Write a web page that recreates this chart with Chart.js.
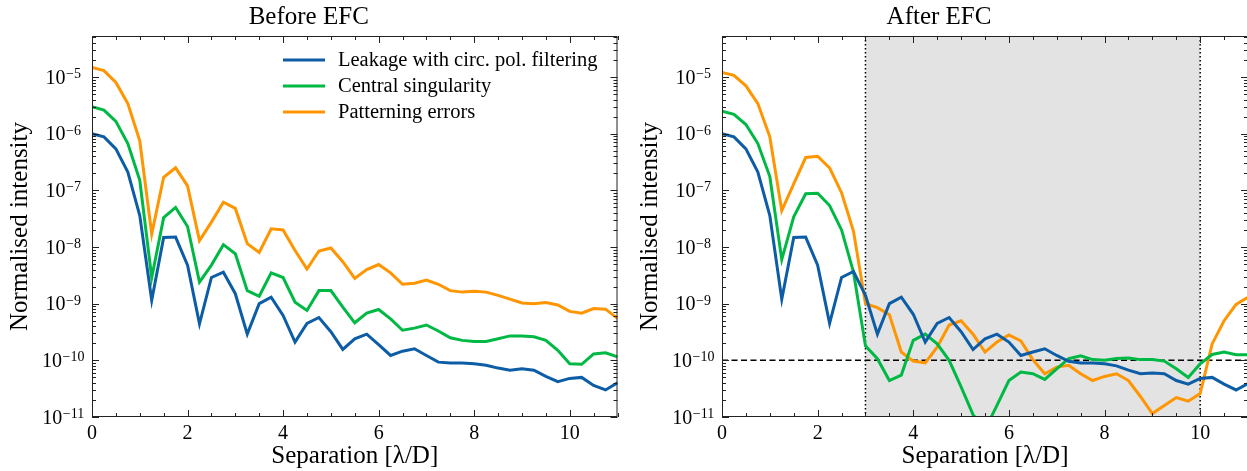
<!DOCTYPE html>
<html>
<head>
  <title>Before / After EFC</title>
  <script src="https://cdn.jsdelivr.net/npm/chart.js"></script>
  <style>
    html, body { margin: 0; padding: 0; background: #fff; overflow: hidden; }
    canvas { position: absolute; top: 0; }
    #beforeChart { left: 0; }
    #afterChart { left: 630px; }
  </style>
</head>
<body>
  <canvas id="beforeChart" width="625" height="471"></canvas>
  <canvas id="afterChart" width="618" height="471"></canvas>

  <script>
// separation in lambda/D
const separation = [0, 0.25, 0.5, 0.75, 1, 1.25, 1.5, 1.75, 2, 2.25, 2.5, 2.75, 3, 3.25, 3.5, 3.75,
  4, 4.25, 4.5, 4.75, 5, 5.25, 5.5, 5.75, 6, 6.25, 6.5, 6.75, 7, 7.25, 7.5, 7.75,
  8, 8.25, 8.5, 8.75, 9, 9.25, 9.5, 9.75, 10, 10.25, 10.5, 10.75, 11];

// Before EFC
const beforeLeakage = [1.0e-6, 8.8e-7, 5.4e-7, 2.1e-7, 3.6e-8, 1.15e-9, 1.47e-8, 1.5e-8, 4.8e-9, 4.4e-10,
  2.9e-9, 3.6e-9, 1.5e-9, 2.9e-10, 1.0e-9, 1.3e-9, 6.2e-10, 2.1e-10, 4.5e-10, 5.7e-10,
  3.2e-10, 1.56e-10, 2.4e-10, 2.9e-10, 1.9e-10, 1.22e-10, 1.45e-10, 1.6e-10, 1.22e-10, 9.3e-11,
  9.0e-11, 9.0e-11, 8.7e-11, 8.2e-11, 7.3e-11, 6.7e-11, 7.1e-11, 6.7e-11, 5.2e-11, 4.2e-11,
  4.8e-11, 5.0e-11, 3.6e-11, 3.0e-11, 4.0e-11];
const beforeCentral = [3.0e-6, 2.6e-6, 1.65e-6, 6.7e-7, 1.5e-7, 2.9e-9, 3.3e-8, 5.0e-8, 2.3e-8, 2.4e-9,
  4.8e-9, 1.1e-8, 7.6e-9, 1.7e-9, 1.35e-9, 3.5e-9, 2.9e-9, 1.06e-9, 7.6e-10, 1.7e-9,
  1.7e-9, 8.7e-10, 4.6e-10, 6.8e-10, 7.9e-10, 5.4e-10, 3.4e-10, 3.7e-10, 4.2e-10, 3.3e-10,
  2.5e-10, 2.25e-10, 2.15e-10, 2.15e-10, 2.4e-10, 2.7e-10, 2.7e-10, 2.6e-10, 2.25e-10, 1.5e-10,
  8.7e-11, 8.5e-11, 1.3e-10, 1.36e-10, 1.15e-10];
const beforePattern = [1.48e-5, 1.3e-5, 8.0e-6, 3.4e-6, 7.5e-7, 1.7e-8, 1.7e-7, 2.5e-7, 1.2e-7, 1.3e-8,
  2.75e-8, 6.2e-8, 4.8e-8, 1.15e-8, 8.0e-9, 2.1e-8, 2.0e-8, 8.7e-9, 4.1e-9, 8.5e-9,
  9.6e-9, 5.5e-9, 2.8e-9, 4.0e-9, 4.9e-9, 3.5e-9, 2.2e-9, 2.3e-9, 2.6e-9, 2.2e-9,
  1.7e-9, 1.6e-9, 1.65e-9, 1.6e-9, 1.4e-9, 1.2e-9, 1.03e-9, 1.0e-9, 1.05e-9, 9.5e-10,
  7.3e-10, 6.8e-10, 8.2e-10, 8.0e-10, 5.5e-10];

// After EFC
const afterLeakage = [1.0e-6, 8.8e-7, 5.4e-7, 2.1e-7, 3.6e-8, 1.2e-9, 1.47e-8, 1.5e-8, 4.8e-9, 4.5e-10,
  2.9e-9, 3.7e-9, 1.4e-9, 2.9e-10, 1.0e-9, 1.3e-9, 6.5e-10, 2.1e-10, 4.5e-10, 5.7e-10,
  3.2e-10, 1.55e-10, 2.4e-10, 2.9e-10, 2.1e-10, 1.22e-10, 1.4e-10, 1.6e-10, 1.22e-10, 9.6e-11,
  9.0e-11, 9.0e-11, 8.7e-11, 8.0e-11, 6.7e-11, 5.8e-11, 6.0e-11, 5.8e-11, 4.4e-11, 3.8e-11,
  4.8e-11, 5.0e-11, 3.8e-11, 3.0e-11, 3.9e-11];
const afterCentral = [2.5e-6, 2.2e-6, 1.45e-6, 6.7e-7, 1.75e-7, 6.0e-9, 3.4e-8, 8.7e-8, 8.9e-8, 5.4e-8,
  2.0e-8, 3.6e-9, 1.8e-10, 1.07e-10, 4.4e-11, 5.5e-11, 2.25e-10, 2.9e-10, 1.95e-10, 1.0e-10,
  3.4e-11, 1.1e-11, 6.0e-12, 1.6e-11, 4.4e-11, 6.2e-11, 5.8e-11, 4.6e-11, 7.1e-11, 1.07e-10,
  1.2e-10, 1.03e-10, 1.0e-10, 1.08e-10, 1.1e-10, 1.03e-10, 1.03e-10, 9.7e-11, 7.1e-11, 5.0e-11,
  8.7e-11, 1.27e-10, 1.4e-10, 1.26e-10, 1.26e-10];
const afterPattern = [1.2e-5, 1.07e-5, 7.0e-6, 3.4e-6, 8.8e-7, 4.4e-8, 1.3e-7, 3.8e-7, 4.0e-7, 2.5e-7,
  9.1e-8, 1.9e-8, 1.0e-9, 8.5e-10, 6.4e-10, 1.4e-10, 9.7e-11, 9.0e-11, 1.7e-10, 4.2e-10,
  5.0e-10, 2.9e-10, 1.4e-10, 2.1e-10, 2.8e-10, 2.2e-10, 1.03e-10, 5.8e-11, 7.6e-11, 8.2e-11,
  5.8e-11, 4.4e-11, 5.2e-11, 5.8e-11, 4.4e-11, 2.3e-11, 1.15e-11, 1.6e-11, 2.2e-11, 1.9e-11,
  2.6e-11, 1.95e-10, 5.0e-10, 9.7e-10, 1.3e-9];

const seriesLabels = ['Leakage with circ. pol. filtering', 'Central singularity', 'Patterning errors'];
const seriesColors = ['#0C5DA5', '#00B945', '#FF9500'];

const xTicks = [0, 2, 4, 6, 8, 10];
const yTickExponents = [-11, -10, -9, -8, -7, -6, -5];
const darkHole = [3, 10];      // shaded region after EFC
const contrastGoal = 1e-10;    // dashed line

const FONT = '"Liberation Serif", "Times New Roman", serif';
Chart.defaults.font.family = FONT;
Chart.defaults.color = '#000';

// inward ticks on all four sides + frame + y labels as 10^n
const frameTicks = {
  id: 'frameTicks',
  afterDraw(chart) {
    const {ctx, chartArea: a, scales: {x, y}} = chart;
    ctx.save();
    ctx.strokeStyle = '#222';
    ctx.lineWidth = 1;
    ctx.strokeRect(a.left + 0.5, a.top + 0.5, a.right - a.left - 1, a.bottom - a.top - 1);

    const tick = (x1, y1, x2, y2) => { ctx.beginPath(); ctx.moveTo(x1, y1); ctx.lineTo(x2, y2); ctx.stroke(); };
    // x
    for (let v = 0; v <= x.max + 1e-9; v += 0.5) {
      const px = Math.round(x.getPixelForValue(v)) + 0.5;
      const len = (v % 2 === 0) ? 7 : 4;
      tick(px, a.bottom, px, a.bottom - len);
      tick(px, a.top, px, a.top + len);
    }
    // y
    yTickExponents.forEach(e => {
      for (let k = 1; k <= 9; k++) {
        const v = k * Math.pow(10, e);
        if (v < y.min || v > y.max) continue;
        const py = Math.round(y.getPixelForValue(v)) + 0.5;
        const len = k === 1 ? 7 : 4;
        tick(a.left, py, a.left + len, py);
        tick(a.right, py, a.right - len, py);
      }
    });

    // y tick labels
    ctx.fillStyle = '#000';
    ctx.textBaseline = 'alphabetic';
    ctx.textAlign = 'left';
    yTickExponents.forEach(e => {
      const py = y.getPixelForValue(Math.pow(10, e));
      const exp = '\u2212' + Math.abs(e);
      ctx.font = '20px ' + FONT;
      const wBase = ctx.measureText('10').width;
      ctx.font = '14px ' + FONT;
      const wExp = ctx.measureText(exp).width;
      const x0 = a.left - 29 - (wBase + wExp) / 2;
      ctx.font = '20px ' + FONT;
      ctx.fillText('10', x0, py + 6.5);
      ctx.font = '14px ' + FONT;
      ctx.fillText(exp, x0 + wBase + 0.5, py + 1);
    });
    ctx.restore();
  }
};

const legendBox = {
  id: 'legendBox',
  afterDraw(chart, args, opts) {
    if (!opts.show) return;
    const {ctx, chartArea: a} = chart;
    ctx.save();
    ctx.font = '20.5px ' + FONT;
    ctx.textBaseline = 'middle';
    chart.data.datasets.forEach((ds, i) => {
      const y = a.top + 24 + i * 26;
      const x0 = a.left + 191;
      ctx.strokeStyle = ds.borderColor;
      ctx.lineWidth = ds.borderWidth;
      ctx.beginPath(); ctx.moveTo(x0, y); ctx.lineTo(x0 + 42, y); ctx.stroke();
      ctx.fillStyle = '#000';
      ctx.fillText(ds.label, x0 + 55, y + 1);
    });
    ctx.restore();
  }
};

// grey region, dotted edges and dashed goal line
const regionMarks = {
  id: 'regionMarks',
  beforeDatasetsDraw(chart, args, opts) {
    if (!opts.show) return;
    const {ctx, chartArea: a, scales: {x, y}} = chart;
    const x1 = x.getPixelForValue(darkHole[0]);
    const x2 = x.getPixelForValue(darkHole[1]);
    ctx.save();
    ctx.fillStyle = '#e3e3e3';
    ctx.fillRect(x1, a.top, x2 - x1, a.bottom - a.top);
    ctx.strokeStyle = '#000';
    ctx.lineWidth = 1.5;
    ctx.setLineDash([1.5, 2.5]);
    [x1, x2].forEach(px => {
      ctx.beginPath(); ctx.moveTo(px, a.top); ctx.lineTo(px, a.bottom); ctx.stroke();
    });
    ctx.setLineDash([6, 3.5]);
    const py = y.getPixelForValue(contrastGoal);
    ctx.beginPath(); ctx.moveTo(a.left, py); ctx.lineTo(a.right, py); ctx.stroke();
    ctx.restore();
  }
};

function makeChart(id, title, series, padRight, withLegend, withRegion) {
  return new Chart(document.getElementById(id), {
    type: 'line',
    data: {
      labels: separation,
      datasets: series.map((d, i) => ({
        label: seriesLabels[i],
        data: separation.map((s, j) => ({x: s, y: d[j]})),
        borderColor: seriesColors[i],
        borderWidth: 3,
        pointRadius: 0,
        tension: 0,
        fill: false
      }))
    },
    options: {
      responsive: false,
      animation: false,
      devicePixelRatio: 1,
      layout: { padding: { left: 0, right: padRight, top: 0, bottom: 0 } },
      plugins: {
        legend: { display: false },
        tooltip: { enabled: false },
        title: {
          display: true, text: title, color: '#000',
          font: { family: FONT, size: 25, weight: 'normal' },
          padding: { top: 2, bottom: 4 }
        },
        legendBox: { show: withLegend },
        regionMarks: { show: withRegion }
      },
      scales: {
        x: {
          type: 'linear', min: 0, max: 11,
          grid: { display: false, drawTicks: false },
          border: { display: false },
          afterBuildTicks: s => { s.ticks = xTicks.map(v => ({value: v})); },
          ticks: { font: { size: 20 }, color: '#000', padding: 5, maxRotation: 0 },
          title: { display: true, text: 'Separation [λ/D]', color: '#000',
                   font: { size: 25 }, padding: { top: 0, bottom: 0 } },
          afterFit: s => { s.height = 54; }
        },
        y: {
          type: 'logarithmic', min: 1e-11, max: 5.3e-5,
          grid: { display: false, drawTicks: false },
          border: { display: false },
          afterBuildTicks: s => { s.ticks = yTickExponents.map(e => ({value: Math.pow(10, e)})); },
          ticks: { display: false },
          title: { display: true, text: 'Normalised intensity', color: '#000',
                   font: { size: 25 }, padding: { top: 5, bottom: 0 } },
          afterFit: s => { s.width = 92; }
        }
      }
    },
    plugins: [regionMarks, frameTicks, legendBox]
  });
}

makeChart('beforeChart', 'Before EFC', [beforeLeakage, beforeCentral, beforePattern], 7.5, true, false);
makeChart('afterChart', 'After EFC', [afterLeakage, afterCentral, afterPattern], 0, false, true);
  </script>
</body>
</html>
